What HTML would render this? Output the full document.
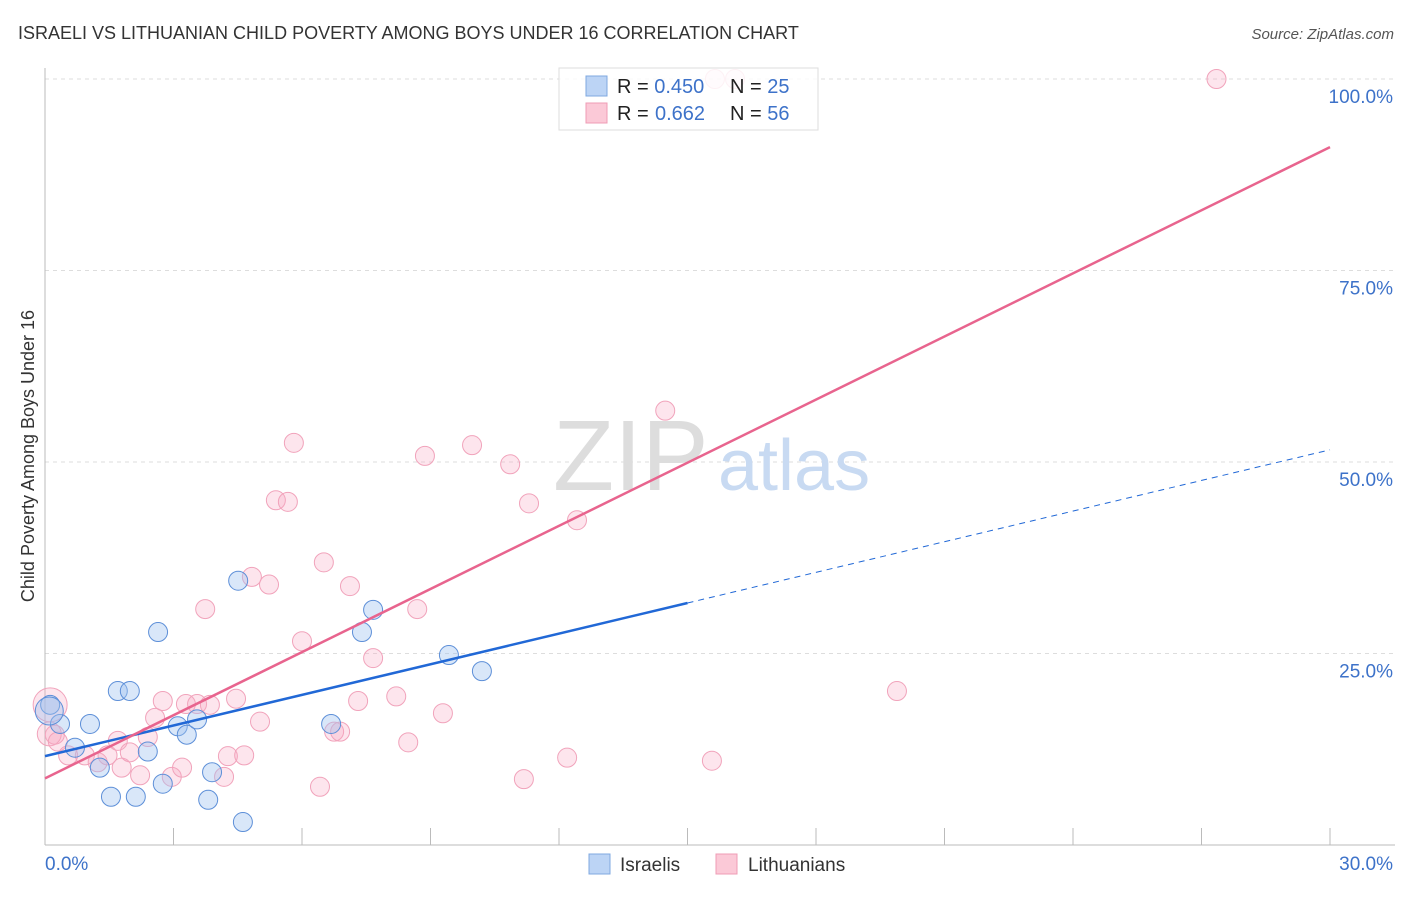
<!DOCTYPE html>
<html><head><meta charset="utf-8"><style>
body{margin:0;background:#fff;font-family:"Liberation Sans",sans-serif;}
svg text{font-family:"Liberation Sans",sans-serif;}
</style></head><body>
<svg width="1406" height="892" xmlns="http://www.w3.org/2000/svg">
<text x="18" y="39" font-size="18" fill="#333">ISRAELI VS LITHUANIAN CHILD POVERTY AMONG BOYS UNDER 16 CORRELATION CHART</text>
<text x="1394" y="39" font-size="15" fill="#555" font-style="italic" text-anchor="end">Source: ZipAtlas.com</text>
<g id="grid"></g>
<g>
<text x="553" y="490" font-size="100" fill="#ddd" font-family="Liberation Serif,serif">ZIP</text>
<text x="718" y="490" font-size="72" fill="#c8daf2">atlas</text></g>
<g id="axes"></g>
<g id="points"></g>
<g id="lines"></g>
<text transform="translate(34,456) rotate(-90)" font-size="18" fill="#333" text-anchor="middle">Child Poverty Among Boys Under 16</text>
<g>
<rect x="559" y="68" width="259" height="62" fill="rgba(255,255,255,0.85)" stroke="#ddd"/>
<rect x="586" y="76" width="21" height="20" fill="#bcd4f5" stroke="#7fa8e0"/>
<rect x="586" y="103" width="21" height="20" fill="#fbc9d7" stroke="#ef9cb5"/>
<text x="617" y="93" font-size="20" fill="#222">R = <tspan fill="#3d72c9">0.450</tspan><tspan x="730">N = </tspan><tspan fill="#3d72c9">25</tspan></text>
<text x="617" y="120" font-size="20" fill="#222">R = <tspan x="655" fill="#3d72c9">0.662</tspan><tspan x="730">N = </tspan><tspan fill="#3d72c9">56</tspan></text>
</g>
<g>
<rect x="589" y="854" width="21" height="20" fill="#bcd4f5" stroke="#7fa8e0"/>
<text x="620" y="871" font-size="19" fill="#333">Israelis</text>
<rect x="716" y="854" width="21" height="20" fill="#fbc9d7" stroke="#ef9cb5"/>
<text x="748" y="871" font-size="19" fill="#333">Lithuanians</text>
</g>
</svg>
<script>
const blueX=[0.12,0.35,1.05,0.70,1.28,1.70,1.98,1.54,2.12,2.40,2.64,2.75,3.10,3.31,3.55,3.81,3.90,4.51,4.62,6.68,7.40,7.66,9.43,10.2,0.1];
const blueY=[18.3,15.8,15.8,12.7,10.1,20.1,20.1,6.3,6.3,12.2,27.8,8.0,15.5,14.4,16.4,5.9,9.5,34.5,3.0,15.8,27.8,30.7,24.8,22.7,17.5];
const pinkX=[0.12,0.23,0.54,0.93,1.23,1.46,1.70,1.79,1.98,2.22,2.40,2.57,2.75,2.96,3.20,3.29,3.55,3.74,3.85,4.18,4.27,4.46,4.65,4.83,5.02,5.23,5.39,5.67,5.81,6.00,6.42,6.51,6.75,6.89,7.12,7.31,7.66,8.20,8.48,8.69,8.87,9.29,9.97,10.86,11.18,11.30,12.19,12.42,14.48,15.57,19.89,27.35,16.11,15.64,0.1,0.3];
const pinkY=[18.3,14.4,11.7,11.7,10.8,11.7,13.6,10.1,12.1,9.1,14.1,16.6,18.8,8.9,10.1,18.4,18.4,30.8,18.3,8.9,11.6,19.1,11.7,35.0,16.1,34.0,45.0,44.8,52.5,26.6,7.6,36.9,14.8,14.8,33.8,18.8,24.4,19.4,13.4,30.8,50.8,17.2,52.2,49.7,8.6,44.6,11.4,42.4,56.7,11.0,20.1,100,100,100,14.5,13.5];
const blueFit=[11.6,1.333];
const pinkFit=[8.7,2.747];
const yTicks=[25,50,75,100];
const yTickLabels=["25.0%","50.0%","75.0%","100.0%"];
const xTicks=[0,3,6,9,12,15,18,21,24,27,30];
const xs=v=>45+v/30*1285, ys=v=>845-v*7.66;
const NS="http://www.w3.org/2000/svg";
function mk(t,a,p){const e=document.createElementNS(NS,t);for(const k in a)e.setAttribute(k,a[k]);document.getElementById(p).appendChild(e);return e;}
yTicks.forEach((t,i)=>{
 const l=mk('line',{x1:45,x2:1395,y1:ys(t),y2:ys(t),stroke:'#ddd','stroke-dasharray':'4,4'},'grid');
 
 
 const tx=mk('text',{x:1393,y:ys(t)+24,'font-size':19,fill:'#3d72c9','text-anchor':'end'},'grid');
 tx.textContent=yTickLabels[i];
 
 
});
const ax=mk('line',{x1:45,x2:45,y1:68,y2:845,stroke:'#bbb'},'axes');


const bx=mk('line',{x1:45,x2:1395,y1:845,y2:845,stroke:'#bbb'},'axes');


xTicks.forEach(t=>{const l=mk('line',{x1:xs(t),x2:xs(t),y1:828,y2:845,stroke:'#bbb'},'axes');
 
 });
[[45,'0.0%','start'],[1393,'30.0%','end']].forEach(d=>{const t=mk('text',{x:d[0],y:870,'font-size':19,fill:'#3d72c9','text-anchor':d[2]},'axes');t.textContent=d[1];
 
 });
pinkX.forEach((x,i)=>{const r=(i===0||i===pinkX.length-2)?(i===0?17:12):9.5;
 const c=mk('circle',{cx:xs(x),cy:ys(pinkY[i]),r:r,fill:'rgba(248,170,195,0.3)',stroke:'#f1a3bb','stroke-width':1},'points');
 
 });
blueX.forEach((x,i)=>{const r=i===blueX.length-1?14:9.5;
 const c=mk('circle',{cx:xs(x),cy:ys(blueY[i]),r:r,fill:'rgba(160,195,240,0.4)',stroke:'#5d8fd8','stroke-width':1},'points');
 
 });
const bf=x=>blueFit[0]+blueFit[1]*x, pf=x=>pinkFit[0]+pinkFit[1]*x;
const b1=mk('line',{x1:xs(0),y1:ys(bf(0)),x2:xs(15),y2:ys(bf(15)),stroke:'#2168d6','stroke-width':2.5},'lines');


const b2=mk('line',{x1:xs(15),y1:ys(bf(15)),x2:xs(30),y2:ys(bf(30)),stroke:'#2168d6','stroke-width':1,'stroke-dasharray':'6,5'},'lines');


const p1=mk('line',{x1:xs(0),y1:ys(pf(0)),x2:xs(30),y2:ys(pf(30)),stroke:'#e8648e','stroke-width':2.5},'lines');


</script>
</body></html>
